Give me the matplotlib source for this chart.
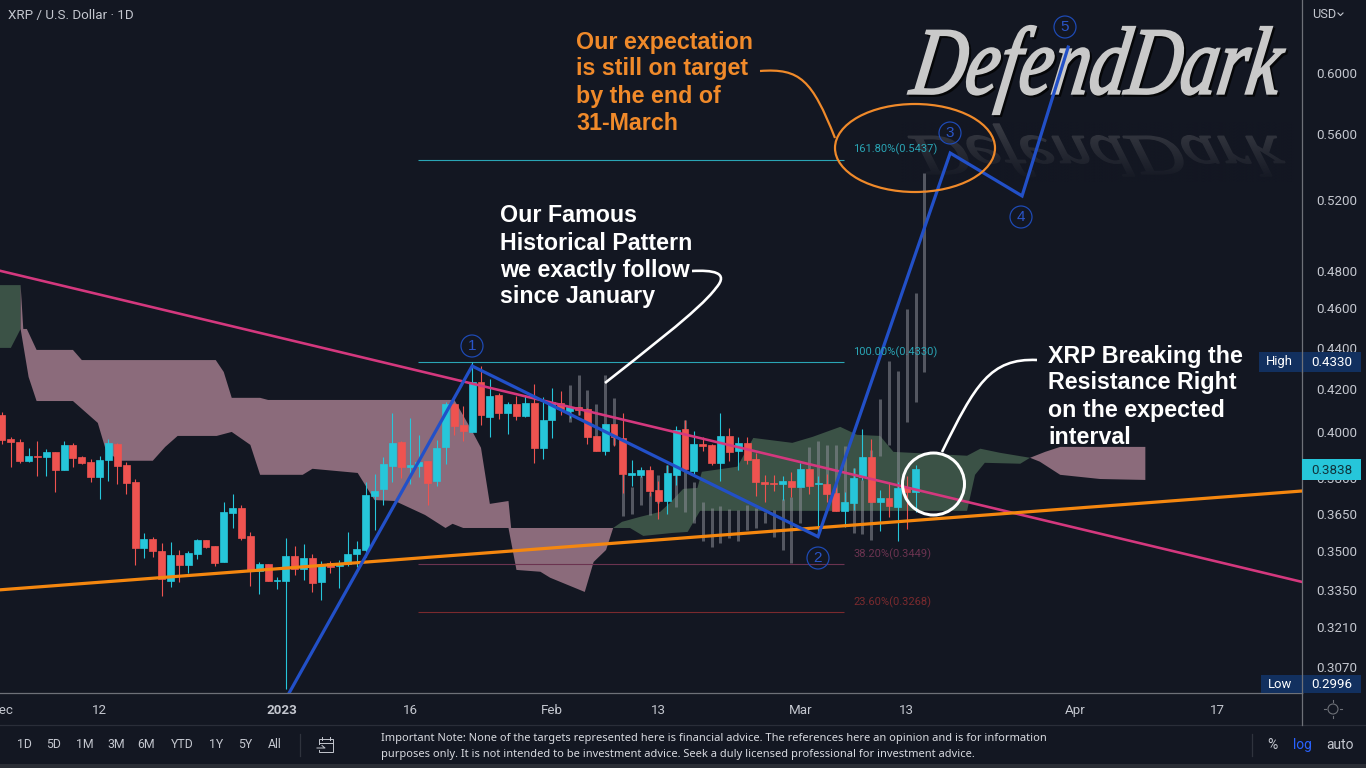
from matplotlib import pyplot as plt
from matplotlib.font_manager import FontProperties
from matplotlib.patches import Circle, Ellipse, PathPatch, Rectangle
from matplotlib.path import Path
from matplotlib.textpath import TextPath
from matplotlib.transforms import Affine2D
import numpy as np

# days counted from 1 Dec 2022
opens = [.4080, .3971, .3957, .3874, .3894, .3891, .3913, .3832, .3944, .3890, .3868, .3805, .3877, .3947, .3856,
         .3781, .3509, .3547, .3498, .3384, .3482, .3446, .3489, .3542, .3518, .3454, .3654, .3672, .3558, .3420,
         .3447, .3383, .3384, .3478, .3428, .3471, .3377, .3452, .3442, .3449, .3489, .3504, .3725, .3751, .3852,
         .3957, .3845, .3853, .3874, .3788, .3934, .4131, .4033, .4002, .4233, .4072, .4172, .4090, .4131, .4075,
         .4134, .3931, .4054, .4134, .4096, .4114, .4106, .3984, .3915, .4037, .3974, .3814, .3813, .3833, .3748,
         .3702, .3813, .4014, .3830, .3947, .3944, .3866, .3984, .3915, .3951, .3881, .3782, .3778, .3775, .3787,
         .3760, .3839, .3772, .3772, .3734, .3660, .3695, .3803, .3890, .3699, .3713, .3679, .3763, .3738]
closes = [.3966, .3959, .3871, .3894, .3891, .3911, .3832, .3942, .3888, .3862, .3805, .3877, .3951, .3853, .3780,
          .3509, .3546, .3497, .3391, .3482, .3446, .3490, .3543, .3515, .3452, .3655, .3672, .3552, .3423, .3449,
          .3384, .3387, .3478, .3428, .3471, .3373, .3444, .3437, .3447, .3486, .3506, .3726, .3746, .3859, .3951,
          .3845, .3855, .3867, .3778, .3929, .4129, .4030, .4004, .4233, .4077, .4167, .4090, .4129, .4075, .4134,
          .3931, .4057, .4138, .4108, .4114, .4103, .3979, .3916, .4037, .3981, .3817, .3820, .3833, .3744, .3702,
          .3821, .4011, .3839, .3948, .3939, .3865, .3984, .3914, .3951, .3878, .3784, .3775, .3775, .3787, .3759,
          .3839, .3765, .3778, .3733, .3660, .3696, .3798, .3890, .3699, .3713, .3681, .3755, .3738, .3838]
highs = [.4092, .3978, .3969, .3929, .3962, .3925, .3913, .3962, .3951, .3893, .3882, .3897, .3969, .3954, .3868,
         .3797, .3570, .3554, .3530, .3534, .3504, .3497, .3547, .3544, .3518, .3696, .3730, .3684, .3573, .3456,
         .3447, .3399, .3550, .3519, .3525, .3488, .3458, .3458, .3464, .3574, .3538, .3781, .3817, .3890, .4088,
         .3962, .4065, .3989, .3874, .3966, .4138, .4137, .4121, .4330, .4311, .4249, .4180, .4138, .4167, .4172,
         .4225, .4161, .4204, .4189, .4123, .4118, .4111, .3984, .4037, .4039, .4090, .3878, .3846, .3849, .3787,
         .3856, .4030, .4054, .4007, .3978, .3947, .4087, .4019, .3978, .3978, .3907, .3813, .3813, .3806, .3824,
         .3862, .3842, .3808, .3817, .3763, .3738, .3841, .4014, .3969, .3748, .3777, .3784, .3806, .3857]
lows = [.3947, .3845, .3864, .3868, .3810, .3810, .3741, .3832, .3845, .3861, .3784, .3712, .3788, .3775, .3730,
        .3446, .3473, .3477, .3324, .3361, .3377, .3415, .3469, .3509, .3442, .3454, .3589, .3544, .3365, .3335,
        .3383, .3353, .2996, .3406, .3387, .3339, .3309, .3415, .3357, .3439, .3435, .3477, .3584, .3687, .3784,
        .3798, .3775, .3805, .3687, .3765, .3861, .3989, .3962, .4002, .4034, .3977, .4062, .3993, .4057, .4072,
        .3862, .3882, .3973, .4080, .4065, .4080, .3948, .3915, .3900, .3941, .3734, .3765, .3803, .3723, .3627,
        .3650, .3768, .3828, .3816, .3915, .3856, .3788, .3874, .3834, .3861, .3723, .3699, .3744, .3706, .3717,
        .3759, .3730, .3563, .3699, .3660, .3594, .3665, .3791, .3699, .3577, .3635, .3540, .3587, .3657]

ghost_days = list(range(64, 105))
ghost_tops = [.4220, .4268, .4197, .4131, .4268, .4160, .3817, .3763, .3806, .3741, .3813, .3856, .3813, .4054,
              .3784, .3699, .3672, .3683, .3669, .3665, .3686, .3672, .3658, .3665, .3709, .3717, .3760, .3933,
              .3961, .3944, .3944, .3940, .3841, .3791, .3922, .4152, .4335, .4287, .4598, .4681, .5360]
ghost_bottoms = [.4045, .4080, .4072, .3951, .4034, .3944, .3638, .3648, .3686, .3644, .3692, .3813, .3679, .3658,
                 .3611, .3540, .3513, .3530, .3549, .3540, .3582, .3592, .3611, .3556, .3503, .3453, .3611, .3835,
                 .3777, .3770, .3734, .3692, .3570, .3567, .3543, .3897, .3944, .3755, .4048, .4140, .4282]

green1_days = [-1, 2.1, 2.1, 1.0, -1]
green1_prices = [.4723, .4723, .4495, .4400, .4400]

pink1_top_days = [2.1, 2.4, 2.8, 3.9, 8.0, 9.0, 24.1, 25.0, 25.9, 29.1, 30.0, 51.0, 53.0, 54.0, 55.0, 57.1, 57.4, 68.9]
pink1_top = [.4723, .4495, .4495, .4390, .4390, .4340, .4340, .4282, .4159, .4159, .4149, .4149, .4006, .3931,
             .3690, .3702, .3591, .3591]
pink1_low_days = [2.1, 3.0, 3.9, 8.0, 10.8, 11.8, 13.5, 17.0, 18.4, 19.8, 24.2, 25.9, 28.0, 29.1, 33.9, 35.0, 40.1,
                  42.0, 44.3, 47.7, 50.0, 50.8, 52.0, 57.1, 58.0, 60.7, 61.8, 65.7, 66.7, 68.1, 68.9]
pink1_low = [.4495, .4258, .4144, .4144, .4043, .3909, .3874, .3874, .3935, .3984, .3984, .4002, .3944, .3813, .3813,
             .3839, .3821, .3706, .3702, .3644, .3591, .3608, .3591, .3591, .3425, .3418, .3395, .3341, .3456, .3503,
             .3591]

green2_top_days = [68.9, 69.9, 71.9, 74.2, 75.3, 76.8, 78.4, 78.9, 82.9, 84.7, 89.1, 91.4, 94.5, 96.4, 99.0, 100.5,
                   108.8, 110.3, 112.5, 115.9]
green2_top = [.3591, .3616, .3636, .3657, .3694, .3753, .3757, .3826, .3848, .3975, .3953, .3980, .4025, .3989,
              .3984, .3913, .3896, .3927, .3909, .3887]
green2_low_days = [68.9, 70.8, 72.3, 75.6, 77.3, 78.7, 108.8, 109.7, 110.8, 114.8, 115.9]
green2_low = [.3591, .3591, .3559, .3571, .3575, .3661, .3661, .3813, .3865, .3861, .3887]

pink2_top_days = [115.9, 117.6, 119.3, 128.9]
pink2_top = [.3887, .3913, .3935, .3935]
pink2_low_days = [115.9, 117.0, 119.3, 123.8, 128.9]
pink2_low = [.3887, .3870, .3813, .3795, .3791]

resistance_days = [-0.225, 146.56]
resistance_prices = [.4800, .3379]
support_days = [-0.225, 146.56]
support_prices = [.3349, .3744]
wave_days = [32.2, 53.0, 92.0, 106.9, 115.0, 120.2]
wave_prices = [.2972, .4311, .3556, .5482, .5223, .6178]

fib_start = 46.9
fib_end = 94.9
fib_prices = [.5437, .4330, .3449, .3268]
fib_colors = ['#2aa5b5', '#2aa5b5', '#6b3350', '#7a2a2e']
fib_labels = ['161.80%(0.5437)', '100.00%(0.4330)', '38.20%(0.3449)', '23.60%(0.3268)']

y_ticks = [.6, .56, .52, .48, .46, .44, .42, .40, .38, .365, .35, .335, .321, .307]
x_tick_days = [0, 11, 31.5, 46, 62, 74, 90, 102, 121, 137]
x_tick_labels = ['Dec', '12', '2023', '16', 'Feb', '13', 'Mar', '13', 'Apr', '17']
range_buttons = ['1D', '5D', '1M', '3M', '6M', 'YTD', '1Y', '5Y', 'All']
range_centers = [24, 54, 85, 116, 146, 182, 216, 245, 275]

BG = '#131722'
TEAL = '#26c6da'
RED = '#ef5350'
PINK = '#8b6b7b'
GREEN = '#3b5246'
TEXT = '#c4c7cf'
NAVY = '#12305f'
BLUE = '#2250c8'
PX = 0.72

plt.rcParams['font.family'] = ['Roboto', 'DejaVu Sans']
fig = plt.figure(figsize=(13.66, 7.68), dpi=100, facecolor=BG)

back = fig.add_axes([0, 0, 1, 1], zorder=1)
back.set_xlim(0, 1366)
back.set_ylim(768, 0)
back.axis('off')

ax = fig.add_axes([0, 75 / 768, 1302 / 1366, 693 / 768], zorder=2)
ax.patch.set_alpha(0)
ax.set_yscale('log')
ax.set_xlim(-0.225, 146.56)
ax.set_ylim(.2981, .6515)

top = fig.add_axes([0, 0, 1, 1], zorder=3)
top.set_xlim(0, 1366)
top.set_ylim(768, 0)
top.axis('off')

# watermark and its reflection, sheared to look more like a script
font = FontProperties(family='Liberation Serif', style='italic')
logo = TextPath((0, 0), 'DefendDark', size=100, prop=font)
logo = Affine2D().skew_deg(12, 0).transform_path(logo)
box = logo.get_extents()
sx = 377 / box.width
sy = 88 / box.height
logo_tf = Affine2D().translate(-box.x0, -box.y0).scale(sx, -sy).translate(908, 114)
shadow_tf = Affine2D().translate(-box.x0, -box.y0).scale(sx, -sy).translate(910, 116)
mirror_tf = Affine2D().translate(-box.x0, -box.y0).scale(sx, sy * 0.6).translate(908, 124)
back.add_patch(PathPatch(mirror_tf.transform_path(logo), fc='#4a4c53', ec='#4a4c53', lw=1, zorder=1))
fade = np.zeros((100, 2, 4))
fade[:, :, :3] = [19 / 255, 23 / 255, 34 / 255]
fade[:, :, 3] = np.linspace(0.3, 1, 100)[:, None]
back.imshow(fade, extent=(900, 1295, 182, 122), aspect='auto', zorder=2)
back.set_xlim(0, 1366)
back.set_ylim(768, 0)
back.add_patch(PathPatch(shadow_tf.transform_path(logo), fc='#050608', ec='#050608', lw=1.6, zorder=3))
back.add_patch(PathPatch(logo_tf.transform_path(logo), fc='#c9c9c9', ec='#c9c9c9', lw=1.6, zorder=4))

# ichimoku cloud
ax.fill(green1_days, green1_prices, color=GREEN, lw=0, zorder=1)
ax.fill(pink1_top_days + pink1_low_days[::-1], pink1_top + pink1_low[::-1], color=PINK, lw=0, zorder=1)
ax.fill(green2_top_days + green2_low_days[::-1], green2_top + green2_low[::-1], color=GREEN, lw=0, zorder=1)
ax.fill(pink2_top_days + pink2_low_days[::-1], pink2_top + pink2_low[::-1], color=PINK, lw=0, zorder=1)

# projected fractal
ax.vlines(ghost_days, ghost_bottoms, ghost_tops, color='#8a8d96', alpha=0.55, lw=3 * PX, zorder=2)

# candles
days = np.arange(len(opens))
colors = [TEAL if c >= o else RED for o, c in zip(opens, closes)]
ax.vlines(days, lows, highs, color=colors, lw=1.1 * PX, zorder=3)
body_low = np.minimum(opens, closes)
body_high = np.maximum(opens, closes)
ax.bar(days, body_high - body_low, bottom=body_low, width=0.78, color=colors, edgecolor=colors, lw=0.5, zorder=3)

for price, color in zip(fib_prices, fib_colors):
    ax.hlines(price, fib_start, fib_end, color=color, lw=1.1 * PX, zorder=2)

ax.plot(resistance_days, resistance_prices, color='#d4387e', lw=2.6 * PX, zorder=4)
ax.plot(support_days, support_prices, color='#f5870f', lw=3.2 * PX, zorder=4)
ax.plot(wave_days, wave_prices, color=BLUE, lw=3.2 * PX, zorder=5, solid_joinstyle='miter')

# axes
ax.yaxis.tick_right()
ax.set_yticks(y_ticks)
ax.set_yticklabels(['%.4f' % t for t in y_ticks])
ax.minorticks_off()
ax.tick_params(axis='y', length=0, pad=10, labelsize=9.6, labelcolor=TEXT)
ax.set_xticks(x_tick_days)
ax.set_xticklabels(x_tick_labels)
ax.tick_params(axis='x', length=0, pad=8, labelsize=9.6, labelcolor=TEXT)
ax.get_xticklabels()[2].set_fontweight('bold')
for side in ['top', 'left']:
    ax.spines[side].set_visible(False)
for side in ['right', 'bottom']:
    ax.spines[side].set_color('#6e7178')
    ax.spines[side].set_linewidth(0.9)

# callouts
top.add_patch(Ellipse((915, 148), 160, 88, fc='none', ec='#f08a2a', lw=2.2 * PX))
top.add_patch(Circle((933.5, 484), 31, fc='none', ec='white', lw=3 * PX))
orange_curve = Path([(760, 71), (800, 68), (812, 80), (835, 138)],
                    [Path.MOVETO, Path.CURVE4, Path.CURVE4, Path.CURVE4])
top.add_patch(PathPatch(orange_curve, fc='none', ec='#f08a2a', lw=2.2 * PX))
white_left = Path([(692, 271), (712, 270), (730, 272), (716, 288), (700, 310), (640, 355), (605, 383)],
                  [Path.MOVETO, Path.CURVE4, Path.CURVE4, Path.CURVE4, Path.CURVE4, Path.CURVE4, Path.CURVE4])
top.add_patch(PathPatch(white_left, fc='none', ec='white', lw=2.6 * PX))
white_right = Path([(1037, 360), (990, 358), (975, 385), (942, 452)],
                   [Path.MOVETO, Path.CURVE4, Path.CURVE4, Path.CURVE4])
top.add_patch(PathPatch(white_right, fc='none', ec='white', lw=2.6 * PX))

# wave numbers
for n, (cx, cy) in enumerate([(472, 346), (818, 558), (950, 133), (1021, 217), (1065, 27)], start=1):
    top.add_patch(Circle((cx, cy), 11, fc='none', ec='#1e4bb8', lw=1.2 * PX))
    top.text(cx, cy, str(n), color='#2a55c8', fontsize=11, ha='center', va='center', family='Liberation Sans')

# fib labels
for label, color, ly in zip(fib_labels, fib_colors, [149, 352, 554, 602]):
    top.text(853, ly, label, color=color, fontsize=8, ha='left', va='center')

# big notes
for lines, x, ys, color in [
    (['Our expectation', 'is still on target', 'by the end of', '31-March'], 576, [42, 69, 96, 123], '#f08a2a'),
    (['Our Famous', 'Historical Pattern', 'we exactly follow', 'since January'], 500, [216, 243, 270, 297], 'white'),
    (['XRP Breaking the', 'Resistance Right', 'on the expected', 'interval'], 1048, [356, 383, 410, 437], 'white'),
]:
    for line, y in zip(lines, ys):
        top.text(x, y, line, color=color, fontsize=16.75, fontweight='bold', ha='left', va='center',
                 family='Liberation Sans')

# header
top.text(8, 16, 'XRP / U.S. Dollar \u00b7 1D', color=TEXT, fontsize=9.6, ha='left', va='center')
top.text(1312, 14, 'USD', color=TEXT, fontsize=9.2, ha='left', va='center')
top.plot([1338, 1340.5, 1343], [13, 15.5, 13], color=TEXT, lw=0.8)

# price tags
top.add_patch(Rectangle((1259, 352), 102, 20, fc=NAVY, ec='none'))
top.plot([1302, 1302], [352, 372], color='#6e7178', lw=0.9)
top.text(1279, 362, 'High', color='white', fontsize=9.4, ha='center', va='center')
top.text(1332, 362, '0.4330', color='white', fontsize=9.6, ha='center', va='center')
top.add_patch(Rectangle((1302, 459), 59, 21, fc=TEAL, ec='none'))
top.text(1332, 470, '0.3838', color='#10343c', fontsize=9.6, ha='center', va='center')
top.add_patch(Rectangle((1261, 675), 100, 18, fc=NAVY, ec='none'))
top.plot([1302, 1302], [675, 693], color='#6e7178', lw=0.9)
top.text(1280, 684, 'Low', color='white', fontsize=9.4, ha='center', va='center')
top.text(1332, 684, '0.2996', color='white', fontsize=9.6, ha='center', va='center')

# bottom bars
back.plot([0, 1366], [725, 725], color='#2a2e39', lw=0.9)
back.plot([1302, 1302], [693, 725], color='#6e7178', lw=0.9)
back.add_patch(Rectangle((0, 764), 1366, 4, fc='#2a2d35', ec='none'))
back.plot([300, 300], [734, 756], color='#2f333d', lw=0.9)
back.plot([1252, 1252], [734, 756], color='#2f333d', lw=0.9)

for label, cx in zip(range_buttons, range_centers):
    top.text(cx, 745, label, color=TEXT, fontsize=8.8, ha='center', va='center')
top.add_patch(Rectangle((319, 739), 14, 13, fc='none', ec=TEXT, lw=0.7))
top.plot([319, 333], [743, 743], color=TEXT, lw=0.7)
top.plot([322, 322], [737, 740], color=TEXT, lw=0.7)
top.plot([330, 330], [737, 740], color=TEXT, lw=0.7)
top.add_patch(Rectangle((316, 745), 9, 5, fc=BG, ec='none'))
top.plot([317, 325, 322], [748, 748, 745.5], color=TEXT, lw=0.7)

top.text(381, 739, 'Important Note: None of the targets represented here is financial advice. '
         'The references here an opinion and is for information', color='#d8dae0', fontsize=7.96, ha='left',
         va='center', family='Noto Sans')
top.text(381, 754, 'purposes only. It is not intended to be investment advice. '
         'Seek a duly licensed professional for investment advice.', color='#d8dae0', fontsize=7.96, ha='left',
         va='center', family='Noto Sans')

top.text(1272, 745, '%', color=TEXT, fontsize=10, ha='center', va='center')
top.text(1302, 745, 'log', color='#2962ff', fontsize=10, ha='center', va='center')
top.text(1340, 745, 'auto', color=TEXT, fontsize=10, ha='center', va='center')

top.add_patch(Circle((1333, 709), 5, fc='none', ec='#6e7178', lw=0.8))
for dx, dy in [(0, -7), (0, 7), (-7, 0), (7, 0)]:
    top.plot([1333 + dx, 1333 + dx * 1.3], [709 + dy, 709 + dy * 1.3], color='#6e7178', lw=0.8)

fig.savefig('out.png', dpi=100, facecolor=BG)
